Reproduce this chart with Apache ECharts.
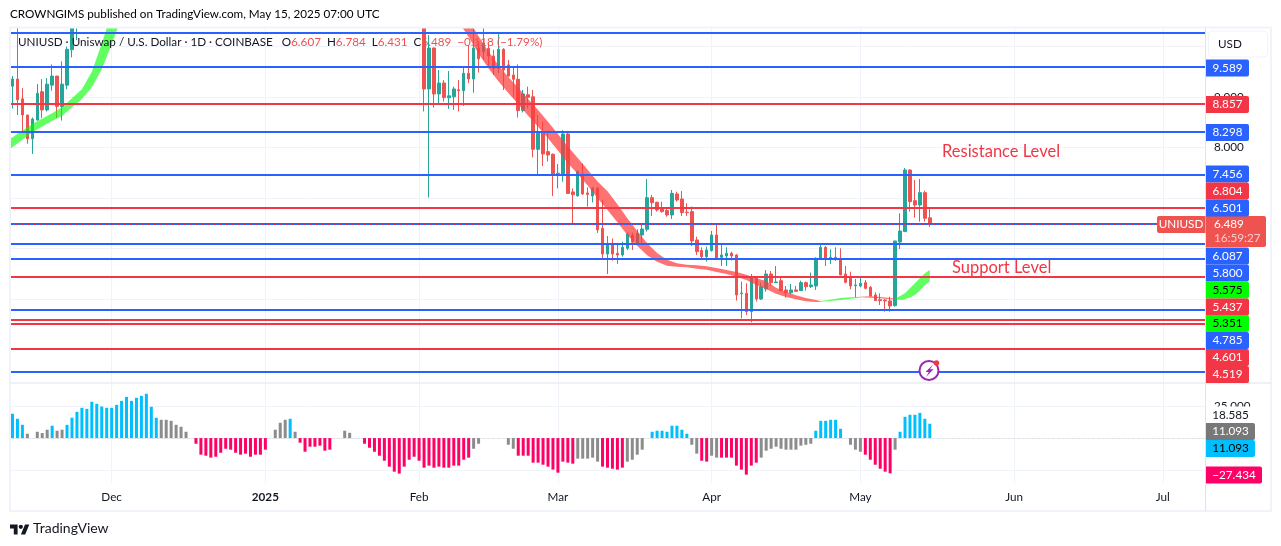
<!DOCTYPE html>
<html>
<head>
<meta charset="utf-8">
<title>UNIUSD</title>
<script src="https://cdn.jsdelivr.net/npm/echarts@6/dist/echarts.min.js"></script>
<style>
html,body{margin:0;padding:0;background:#fff}
#chart{width:1281px;height:546px}
</style>
</head>
<body>
<div id="chart"></div>
<script>
// candles are [open, close, low, high]
const candlesEarly = [
  [9.21,9.35,8.77,9.41],[9.35,8.94,8.64,10.6],[8.96,8.64,8.28,9.17],[8.64,8.17,8.07,8.64],[8.17,8.56,7.87,8.59],
  [8.54,9.07,8.53,9.25],[9.10,8.74,8.58,9.35],[8.74,9.25,8.71,9.37],[9.23,9.41,9.12,9.64],[9.41,8.81,8.58,9.41],
  [8.81,9.25,8.53,9.70],[9.23,9.94,9.15,9.99],[9.93,10.6,9.78,10.8],[10.6,11,10.12,11.2]
];
const lateStart = 83;
const candlesLate = [
  [10.5,9.155,8.71,10.8],[9.155,9.965,7.007,10.22],[9.965,9.056,8.786,9.97],[9.056,9.273,8.858,9.53],[9.273,8.984,8.905,9.33],
  [8.98,9.02,8.76,9.51],[9.0,9.155,8.74,9.20],[9.14,9.12,8.71,9.33],[9.12,9.465,8.82,9.60],[9.465,9.353,9.27,10.02],
  [9.353,9.965,9.08,10.35],[9.96,9.75,9.48,10.1],[9.893,10.057,9.73,10.4],[9.96,9.807,9.596,10.06],[9.807,9.563,9.43,9.93],
  [9.563,9.939,9.465,10.24],[9.939,9.53,9.135,9.96],[9.63,9.41,9.40,9.73],[9.43,9.346,8.99,9.60],[9.346,8.727,8.59,9.64],
  [8.727,9.056,8.69,9.135],[9.04,8.99,8.77,9.2],[9.0,7.962,7.80,9.135],[7.962,8.311,7.44,8.64],[8.311,7.87,7.63,8.51],
  [7.916,7.85,7.72,8.31],[7.863,7.468,7.04,7.88],[7.468,7.488,7.19,7.67],[7.468,8.265,7.32,8.34],[8.265,7.09,7.08,8.31],
  [7.12,7.065,6.49,7.19],[7.04,7.52,7.03,7.55],[7.475,7.08,7.06,7.685],[7.1,7.07,6.83,7.21],[7.04,7.19,6.91,7.22],
  [7.19,6.37,6.31,7.22],[6.40,5.893,5.774,6.96],[5.893,6.10,5.497,6.248],[6.10,5.893,5.76,6.2],[5.906,5.873,5.695,6.07],
  [5.873,6.024,5.84,6.137],[6.005,6.288,5.97,6.314],[6.268,6.123,5.97,6.314],[6.103,6.30,6.09,6.38],[6.268,6.387,6.103,6.49],
  [6.38,7.006,6.334,7.375],[7.006,6.907,6.644,7.06],[6.914,6.762,6.73,6.927],[6.782,6.73,6.71,6.927],[6.75,6.664,6.63,6.815],
  [6.664,7.092,6.585,7.158],[7.079,6.96,6.927,7.125],[6.98,6.71,6.644,7.138],[6.72,6.71,6.644,6.894],[6.73,6.15,6.05,6.83],
  [6.17,5.94,5.873,6.235],[5.96,5.84,5.787,6.024],[5.84,5.972,5.741,6.037],[5.96,6.268,5.94,6.347],[6.268,5.807,5.787,6.466],
  [5.827,5.873,5.655,6.07],[5.853,5.906,5.655,6.024],[5.906,5.853,5.761,5.939],[5.873,5.082,4.97,5.893],[5.108,5.121,4.62,5.346],
  [5.115,4.753,4.687,5.313],[4.753,5.431,4.542,5.497],[5.411,5.003,4.95,5.431],[5.003,5.247,4.983,5.326],[5.201,5.497,5.148,5.576],
  [5.497,5.326,5.26,5.557],[5.326,5.339,5.326,5.655],[5.365,5.168,5.148,5.444],[5.181,5.128,5.03,5.26],[5.128,5.181,5.095,5.30],
  [5.181,5.155,5.141,5.26],[5.168,5.326,5.161,5.365],[5.326,5.247,5.168,5.346],[5.247,5.28,5.22,5.524],[5.26,5.807,5.181,5.827],
  [5.80,6.024,5.794,6.103],[6.024,5.787,5.655,6.05],[5.80,5.827,5.695,5.985],[5.827,5.807,5.754,6.024],[5.807,5.477,5.477,6.005],
  [5.497,5.332,5.313,5.655],[5.444,5.26,5.194,5.543],[5.267,5.28,5.036,5.398],[5.26,5.313,5.234,5.425],[5.326,5.214,5.194,5.378],
  [5.234,5.062,5.049,5.26],[5.082,4.97,4.964,5.135],[4.99,4.97,4.884,5.115],[4.983,4.964,4.753,4.997],[4.964,4.865,4.753,5.049],
  [4.871,6.15,4.85,6.15],[6.13,6.347,5.99,6.697],[6.334,7.553,6.334,7.593],[7.553,6.927,6.73,7.566],[6.947,6.861,6.611,7.356],
  [6.861,7.105,6.532,7.375],[7.105,6.598,6.532,7.145],[6.607,6.489,6.431,6.784]
];

// ribbon edges, index into the days, upper and lower price
const ribbonGreenAIdx = [-1,0,4,8,10,12,14,16,18,20,21,22];
const ribbonGreenAUp  = [8.146,8.199,8.463,8.673,8.792,8.970,9.148,9.497,10.051,10.650,10.98,11.31];
const ribbonGreenALow = [7.949,8.001,8.298,8.528,8.621,8.792,8.957,9.187,9.543,10.038,10.301,10.584];
const ribbonRedAIdx = [90,92,94,96,98,100,102,104,106,108,110,112,114,116,118,120,122,124,126,128,130,132,134,136,138,140,142,144,146,148,150,152,154,156,158,160,162,163];
const ribbonRedAUp  = [10.82,10.525,10.196,9.893,9.623,9.392,9.181,8.957,8.74,8.509,8.265,8.015,7.79,7.56,7.323,7.132,6.875,6.598,6.347,6.103,5.912,5.781,5.708,5.682,5.669,5.649,5.616,5.576,5.537,5.484,5.411,5.359,5.227,5.148,5.075,5.023,4.983,4.963];
const ribbonRedALow = [10.48,10.183,9.853,9.563,9.306,9.076,8.852,8.627,8.41,8.179,7.936,7.685,7.474,7.244,6.993,6.762,6.519,6.268,6.057,5.866,5.741,5.662,5.642,5.629,5.603,5.583,5.537,5.497,5.444,5.379,5.280,5.201,5.108,5.042,4.996,4.957,4.944,4.950];
const ribbonGreenBIdx = [163,165,167,169,171];
const ribbonGreenBUp  = [4.963,4.99,5.023,5.036,5.049];
const ribbonGreenBLow = [4.95,4.964,4.983,5.010,5.029];
const ribbonRedBIdx = [171,173,175,177,178];
const ribbonRedBUp  = [5.049,5.056,5.042,5.023,5.010];
const ribbonRedBLow = [5.036,5.029,5.016,4.996,4.996];
const ribbonGreenCIdx = [178,179,180,181,182,183,184,185];
const ribbonGreenCUp  = [5.016,5.062,5.115,5.214,5.313,5.412,5.510,5.575];
const ribbonGreenCLow = [4.996,4.99,4.996,5.036,5.082,5.168,5.280,5.351];

const blueLevels = [10.26,9.589,8.298,7.456,6.501,6.087,5.8,4.785,3.56];
const redLevels = [8.857,6.804,5.437,4.601,4.519,4.01];
const lastPrice = 6.489;

// oscillator pane, null where no bar is drawn
const oscValues = [
  18.9,15,10.3,3.4,null,4.9,3.9,6.5,9.6,5.7,
  6.5,10.3,15.8,20.4,23.5,22.7,28.2,26.6,24.5,23.5,
  23.5,25.8,28.9,32,28.9,31.3,32.8,34.4,24.3,15.8,
  14.2,14.2,13.4,10.3,8.8,4.9,null,-4.4,-12.9,-13.7,
  -15.2,-14.5,-11.4,-8.3,-9,-11.4,-12.9,-12.1,-14.5,-12.9,
  -12.9,-9,null,6.5,11.9,14.2,15,4.9,-3.6,-10.6,
  -6.7,-6.7,-5.9,-9.8,-9,null,null,5.7,4.1,null,
  null,-4.4,-7.5,-10.6,-13.7,-17.6,-22.2,-26.1,-27.6,-22.2,
  -16.8,-14.5,-17.6,-23,-21.4,-23,-22.2,-23,-23,-21.4,
  -21.4,-16.8,-15.2,-8.3,-4.4,null,null,null,null,null,
  -5.2,-8.3,-13.7,-13.7,-13.7,-19.1,-19.1,-20.7,-22.2,-24.5,
  -26.9,-18.3,-19.1,-19.9,-16,-16,-16,-15.2,-18.3,-22.2,
  -23,-23.8,-24.5,-23,-18.3,-16.8,-12.9,-9,null,4.9,
  5.7,5.7,4.9,9.6,9.6,6.5,3.4,-5.2,-12.1,-17.6,
  -18.3,-13.7,-15.2,-15.2,-15.2,-15.2,-21.4,-24.5,-28.4,-21.4,
  -19.1,-15.2,-9.8,-8.3,-6.7,-8.3,-9,-9,-9,-5.9,
  -5.2,-4.4,5.7,13.4,13.4,14.2,14.2,7.2,null,-5.2,
  -9,-10.6,-12.9,-16.8,-20.7,-23.8,-26.1,-27.4,-9,4.9,
  16.5,18.1,18.1,19.6,15,11.1
];
// days on which the oscillator is neutral (grey bars)
const oscNeutral = [3,5,6,7,9,10,30,31,32,33,34,35,53,54,55,57,67,68,93,94,100,101,114,115,116,117,118,124,125,126,127,137,138,141,142,151,152,153,154,155,156,157,158,159,160,161,169,170,171,178];

const tickDates = ['2024-12-01','2025-01-01','2025-02-01','2025-03-01','2025-04-01','2025-05-01','2025-06-01','2025-07-01'];
const tickLabels = ['Dec','2025','Feb','Mar','Apr','May','Jun','Jul'];
const priceTicks = [4,5,6,7,8,9,10];
const priceTickLabels = [8,9]; // the others sit behind the tags
const oscTicks = [-25,25];
const oscTickLabels = [25];

// price tags down the right side, pushed apart the way the original stacks them
const tagTexts = ['9.589','8.857','8.298','7.456','6.804','6.501','6.087','5.800','5.575','5.437','5.351','4.785','4.601','4.519'];
const tagKinds = ['b','r','b','b','r','b','b','b','g','r','g','b','r','r'];
const tagCenters = [68,104.5,132.5,174,191,208,256,273,290,307,323.5,340.5,357.5,374.5];

const BLUE='#2962FF', RED='#F23645', UP='#26A69A', DOWN='#EF5350', TXT='#131722', GRID='#F0F3FA', EDGE='#E0E3EB';
const FONT='Lato, sans-serif';
const SMALL='11.7px '+FONT;

// 241 daily slots from 2024-11-11
const days = [];
for(let i=0;i<241;i++){
    days.push(new Date(Date.UTC(2024,10,11+i)).toISOString().slice(0,10));
}
const isTick = (i,v)=>tickDates.includes(v);

const candles = days.map(()=>['-','-','-','-']);
candlesEarly.forEach((c,i)=>{candles[i]=c;});
candlesLate.forEach((c,i)=>{candles[lateStart+i]=c;});

const ribbons = [
    {idx:ribbonGreenAIdx,up:ribbonGreenAUp,low:ribbonGreenALow,color:'rgba(0,255,0,0.62)'},
    {idx:ribbonRedAIdx,up:ribbonRedAUp,low:ribbonRedALow,color:'rgba(255,60,60,0.72)'},
    {idx:ribbonGreenBIdx,up:ribbonGreenBUp,low:ribbonGreenBLow,color:'rgba(0,255,0,0.62)'},
    {idx:ribbonRedBIdx,up:ribbonRedBUp,low:ribbonRedBLow,color:'rgba(255,60,60,0.72)'},
    {idx:ribbonGreenCIdx,up:ribbonGreenCUp,low:ribbonGreenCLow,color:'rgba(0,255,0,0.62)'}
];

function renderRibbon(params,api){
    const r=ribbons[params.dataIndex];
    const pts=[];
    r.idx.forEach((d,k)=>pts.push(api.coord([d,r.up[k]])));
    for(let k=r.idx.length-1;k>=0;k--) pts.push(api.coord([r.idx[k],r.low[k]]));
    return {type:'polygon',shape:{points:pts},style:{fill:r.color}};
}

function levelSeries(values,color,name){
    return {
        name:name,type:'line',xAxisIndex:0,yAxisIndex:0,data:[],z:6,silent:true,
        markLine:{silent:true,symbol:'none',animation:false,z:7,label:{show:false},
            lineStyle:{color:color,width:2,type:'solid'},
            data:values.map(v=>({yAxis:v}))}
    };
}

function oscColor(v,i){
    if(oscNeutral.includes(i)) return '#8C8C8C';
    return v>0?'#00BFFF':'#FF0066';
}

// tag on the price scale: box plus text
function tag(x,cy,w,h,fill,text,textColor,radius){
    return [
        {type:'rect',z:50,shape:{x:x,y:cy-h/2,width:w,height:h,r:radius||[0,2,2,0]},style:{fill:fill}},
        {type:'text',z:51,style:{x:x+w/2,y:cy,text:text,fill:textColor,font:SMALL,align:'center',verticalAlign:'middle'}}
    ];
}

const tagFill={b:BLUE,r:RED,g:'#00FF00'};
const tagInk={b:'#fff',r:'#fff',g:'#000'};
let graphics=[
    // candles run off the top of the pane, cover what sticks out
    {type:'rect',z:30,silent:true,shape:{x:0,y:0,width:1281,height:27},style:{fill:'#fff'}},
    {type:'rect',z:31,silent:true,shape:{x:10,y:27.5,width:1261,height:483.5},style:{fill:'none',stroke:GRID,lineWidth:2}},
    {type:'line',z:40,shape:{x1:10,y1:383,x2:1271,y2:383},style:{stroke:EDGE,lineWidth:1}},
    {type:'line',z:40,shape:{x1:1205.5,y1:28,x2:1205.5,y2:511},style:{stroke:EDGE,lineWidth:1}},
    {type:'text',z:60,style:{x:10,y:14.5,text:'CROWNGIMS published on TradingView.com, May 15, 2025 07:00 UTC',fill:'#000',font:SMALL,verticalAlign:'middle'}},
    {type:'text',z:60,style:{x:18,y:42.5,verticalAlign:'middle',
        text:'UNIUSD · Uniswap / U.S. Dollar · 1D · COINBASE   O{r|6.607}  H{r|6.784}  L{r|6.431}  C{r|6.489}  {r|−0.118 (−1.79%)}',
        fill:TXT,font:SMALL,rich:{r:{fill:DOWN,font:SMALL}}}},
    {type:'text',z:60,style:{x:942,y:152,text:'Resistance Level',fill:RED,font:'16.5px '+FONT,verticalAlign:'middle'}},
    {type:'text',z:60,style:{x:952,y:268,text:'Support Level',fill:RED,font:'16.5px '+FONT,verticalAlign:'middle'}},
    // USD button
    {type:'rect',z:50,shape:{x:1208.5,y:31,width:59,height:26,r:4},style:{fill:'#fff',stroke:'#F0F3FA',lineWidth:1}},
    {type:'text',z:51,style:{x:1218,y:44,text:'USD',fill:TXT,font:SMALL,verticalAlign:'middle'}},
    // last price tag
    {type:'rect',z:50,shape:{x:1157,y:216,width:48.5,height:17,r:[2,0,0,2]},style:{fill:DOWN}},
    {type:'text',z:51,style:{x:1181,y:224.5,text:'UNIUSD',fill:'#fff',font:SMALL,align:'center',verticalAlign:'middle'}},
    {type:'rect',z:50,shape:{x:1206,y:216,width:60,height:31,r:[0,2,2,0]},style:{fill:DOWN}},
    {type:'text',z:51,style:{x:1214,y:224.5,text:'6.489',fill:'#fff',font:SMALL,verticalAlign:'middle'}},
    {type:'text',z:51,style:{x:1214,y:238.5,text:'16:59:27',fill:'rgba(255,255,255,0.7)',font:SMALL,verticalAlign:'middle'}},
    // lightning badge
    {type:'circle',z:45,shape:{cx:929,cy:370.5,r:9.5},style:{fill:'#fff',stroke:'#9C27B0',lineWidth:2}},
    {type:'polygon',z:46,shape:{points:[[933,364.5],[925.5,372],[928.8,372],[926,377],[933.5,369.3],[930,369.3]]},style:{fill:'#9C27B0'}},
    {type:'circle',z:47,shape:{cx:936.5,cy:363,r:2.7},style:{fill:RED}},
    // logo
    {type:'polygon',z:60,shape:{points:[[10,524.5],[17.6,524.5],[17.6,534.4],[13.8,534.4],[13.8,528.4],[10,528.4]]},style:{fill:'#131722'}},
    {type:'polygon',z:60,shape:{points:[[25,524.5],[29.3,524.5],[25.2,534.4],[20.9,534.4]]},style:{fill:'#131722'}},
    {type:'circle',z:60,shape:{cx:20.8,cy:526.8,r:2.1},style:{fill:'#131722'}},
    {type:'text',z:60,style:{x:33,y:528.5,text:'TradingView',fill:'#131722',font:'14px '+FONT,verticalAlign:'middle'}}
];
tagTexts.forEach((t,i)=>{
    graphics=graphics.concat(tag(1206,tagCenters[i],43,17,tagFill[tagKinds[i]],t,tagInk[tagKinds[i]]));
});
// oscillator tags
graphics=graphics.concat(tag(1206,415,49,17,'#fff','18.585',TXT));
graphics=graphics.concat(tag(1206,431.5,49,17,'#787878','11.093','#fff'));
graphics=graphics.concat(tag(1206,448.5,49,17,'#00BFFF','11.093','#000'));
graphics=graphics.concat(tag(1206,475,56,17,'#FF0066','−27.434','#fff'));

const myChart = echarts.init(document.getElementById('chart'),null,{renderer:'canvas'});
myChart.setOption({
    animation:false,
    backgroundColor:'#fff',
    grid:[
        {left:10,right:76,top:28,height:355},
        {left:10,right:76,top:384,height:99}
    ],
    xAxis:[
        {type:'category',gridIndex:0,data:days,boundaryGap:true,
            axisLine:{show:false},axisTick:{show:false},axisLabel:{show:false},
            splitLine:{show:true,interval:isTick,alignWithLabel:true,lineStyle:{color:GRID,width:1}}},
        {type:'category',gridIndex:1,data:days,boundaryGap:true,
            axisLine:{show:true,lineStyle:{color:EDGE,width:1}},axisTick:{show:false},
            splitLine:{show:true,interval:isTick,alignWithLabel:true,lineStyle:{color:GRID,width:1}},
            axisLabel:{show:true,interval:isTick,color:TXT,fontFamily:'Lato, sans-serif',fontSize:11.7,margin:8,
                formatter:v=>{const l=tickLabels[tickDates.indexOf(v)]; return l==='2025'?'{b|2025}':l;},
                rich:{b:{fontWeight:'bold',fontSize:11.7,color:TXT,fontFamily:'Lato, sans-serif'}}}}
    ],
    yAxis:[
        {type:'value',gridIndex:0,position:'right',min:3.342,max:10.36,scale:true,
            axisLine:{show:false},axisTick:{show:false,customValues:priceTicks},
            splitLine:{show:true,lineStyle:{color:GRID,width:1}},
            axisLabel:{show:true,customValues:priceTickLabels,color:TXT,fontFamily:'Lato, sans-serif',fontSize:11.7,margin:9,formatter:v=>v.toFixed(3)}},
        {type:'value',gridIndex:1,position:'right',min:-34.9,max:42,
            axisLine:{show:false},axisTick:{show:false,customValues:oscTicks},
            splitLine:{show:true,lineStyle:{color:GRID,width:1}},
            axisLabel:{show:true,customValues:oscTickLabels,color:TXT,fontFamily:'Lato, sans-serif',fontSize:11.7,margin:9,formatter:v=>v.toFixed(3)}}
    ],
    series:[
        {name:'UNIUSD',type:'candlestick',xAxisIndex:0,yAxisIndex:0,data:candles,barWidth:3,clip:true,z:3,
            itemStyle:{color:UP,color0:DOWN,borderColor:UP,borderColor0:DOWN,borderWidth:1}},
        {name:'ribbon',type:'custom',xAxisIndex:0,yAxisIndex:0,clip:true,z:4,silent:true,
            renderItem:renderRibbon,data:ribbons.map(r=>[Math.max(r.idx[0],0),r.up[0]])},
        levelSeries(blueLevels,BLUE,'support'),
        levelSeries(redLevels,RED,'resistance'),
        {name:'last',type:'line',xAxisIndex:0,yAxisIndex:0,data:[],z:5,silent:true,
            markLine:{silent:true,symbol:'none',animation:false,z:8,label:{show:false},
                lineStyle:{color:RED,width:1,type:[1,2]},data:[{yAxis:lastPrice}]}},
        {name:'osc',type:'bar',xAxisIndex:1,yAxisIndex:1,barWidth:3,z:3,
            data:oscValues.map((v,i)=>v===null?null:{value:v,itemStyle:{color:oscColor(v,i)}}),
            markLine:{silent:true,symbol:'none',animation:false,z:2,label:{show:false},
                lineStyle:{color:'#EDEDED',width:1,type:[2,3]},data:[{yAxis:0}]}}
    ],
    graphic:{elements:graphics}
});
window.addEventListener('resize',()=>myChart.resize());
</script>
</body>
</html>
